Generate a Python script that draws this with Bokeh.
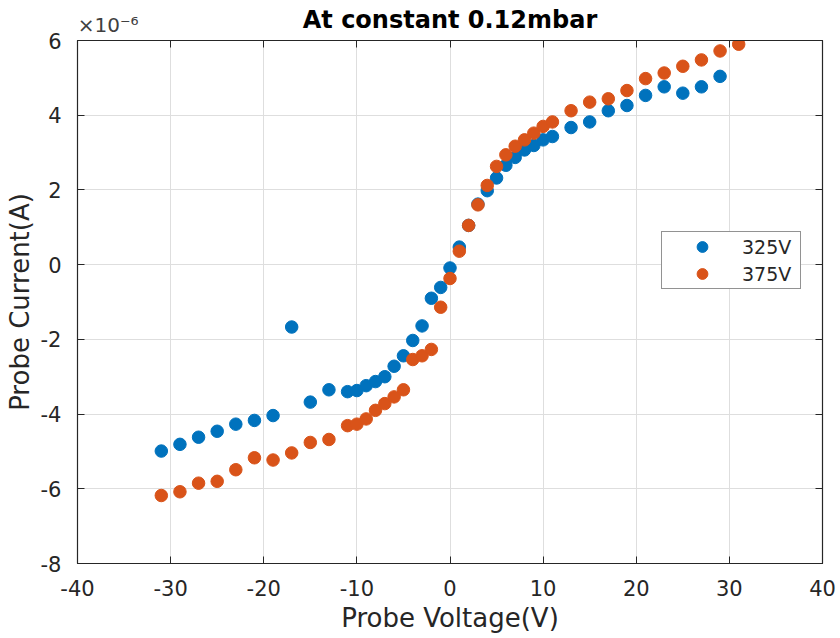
from bokeh.plotting import figure
from bokeh.models import (Range1d, LinearAxis, SingleIntervalTicker, FixedTicker,
                          Legend, LegendItem, ColumnDataSource, CustomJSTickFormatter)
from bokeh.embed import file_html
from bokeh.resources import INLINE

# Probe current in units of 1e-6 A (axis multiplier shown as x10^-6)
voltage_325 = [-31, -29, -27, -25, -23, -21, -19, -17, -15, -13, -11, -10, -9, -8, -7, -6,
               -5, -4, -3, -2, -1, 0, 1, 2, 3, 4, 5, 6, 7, 8, 9, 10, 11, 13, 15, 17, 19,
               21, 23, 25, 27, 29]
current_325 = [-4.99, -4.81, -4.62, -4.46, -4.27, -4.17, -4.04, -1.67, -3.68, -3.35, -3.40,
               -3.37, -3.24, -3.13, -3.00, -2.72, -2.44, -2.03, -1.64, -0.90, -0.61, -0.09,
               0.47, 1.05, 1.62, 1.98, 2.32, 2.66, 2.87, 3.07, 3.19, 3.34, 3.43, 3.67, 3.82,
               4.12, 4.26, 4.53, 4.76, 4.59, 4.76, 5.04]

voltage_375 = [-31, -29, -27, -25, -23, -21, -19, -17, -15, -13, -11, -10, -9, -8, -7, -6,
               -5, -4, -3, -2, -1, 0, 1, 2, 3, 4, 5, 6, 7, 8, 9, 10, 11, 13, 15, 17, 19,
               21, 23, 25, 27, 29, 31]
current_375 = [-6.18, -6.08, -5.85, -5.80, -5.49, -5.17, -5.23, -5.04, -4.76, -4.68, -4.31,
               -4.27, -4.13, -3.90, -3.72, -3.54, -3.35, -2.54, -2.44, -2.27, -1.14, -0.37,
               0.36, 1.05, 1.60, 2.12, 2.63, 2.94, 3.17, 3.34, 3.52, 3.70, 3.82, 4.12, 4.35,
               4.44, 4.66, 4.98, 5.13, 5.31, 5.48, 5.72, 5.90]

series_names = ["325V", "375V"]
x_ticks = [-40, -30, -20, -10, 0, 10, 20, 30, 40]
title_text = "At constant 0.12mbar"
multiplier_text = "×10⁻⁶"
x_label = "Probe Voltage(V)"
y_label = "Probe Current(A)"

BLUE = "#0072BD"
ORANGE = "#D95319"
DARK = "#262626"
FONT = "DejaVu Sans"

FL, FR, FT, FB = 77, 18, 40, 75
W, H = 840, 638
MULT_X = -36.7  # horizontal anchor (data x) of the multiplier text above the frame

p = figure(width=W, height=H, output_backend="svg", toolbar_location=None,
           x_range=Range1d(-40, 40), y_range=Range1d(-8, 6),
           min_border_left=FL, min_border_right=FR, min_border_top=FT,
           min_border_bottom=FB, background_fill_color="white",
           border_fill_color="white", title=None)

p.outline_line_color = DARK
p.outline_line_width = 1.2

fmt = CustomJSTickFormatter(code="return tick.toFixed(0);")

for ax, interval in ((p.xaxis[0], 10), (p.yaxis[0], 2)):
    ax.ticker = SingleIntervalTicker(interval=interval)
    ax.formatter = fmt
    ax.major_tick_in = 7
    ax.major_tick_out = 0
    ax.minor_tick_line_color = None
    ax.axis_line_color = DARK
    ax.major_tick_line_color = DARK
    ax.major_label_text_font = FONT
    ax.major_label_text_font_size = "21px"
    ax.major_label_text_color = DARK
    ax.major_label_standoff = 12
    ax.axis_label_text_font = FONT
    ax.axis_label_text_font_size = "26px"
    ax.axis_label_text_font_style = "normal"
    ax.axis_label_text_color = DARK

p.xaxis[0].axis_label = x_label
p.xaxis[0].axis_label_standoff = 4
p.yaxis[0].axis_label = y_label
p.yaxis[0].axis_label_standoff = 3

# top axis: inward tick marks (as minor ticks), the x10^-6 multiplier as its only
# tick label, and the chart title as its axis label
top_ax = LinearAxis(ticker=FixedTicker(ticks=[MULT_X], minor_ticks=x_ticks),
                    major_label_overrides={MULT_X: multiplier_text},
                    major_tick_line_color=None, major_tick_in=0, major_tick_out=0,
                    minor_tick_in=7, minor_tick_out=0, minor_tick_line_color=DARK,
                    major_label_text_font=FONT, major_label_text_font_size="20px",
                    major_label_text_color="#404040", major_label_standoff=4,
                    axis_line_color=DARK,
                    axis_label=title_text, axis_label_text_font=FONT,
                    axis_label_text_font_size="24px", axis_label_text_font_style="bold",
                    axis_label_text_color="black", axis_label_standoff=-24)
p.add_layout(top_ax, "above")

right_ax = LinearAxis(ticker=SingleIntervalTicker(interval=2), major_tick_in=7,
                      major_tick_out=0, minor_tick_line_color=None,
                      major_label_text_font_size="1px", major_label_text_color=None,
                      major_label_standoff=0,
                      axis_line_color=DARK, major_tick_line_color=DARK)
p.add_layout(right_ax, "right")

p.xgrid.ticker = SingleIntervalTicker(interval=10)
p.ygrid.ticker = SingleIntervalTicker(interval=2)
p.grid.grid_line_color = "#dedede"
p.grid.grid_line_width = 1

src_325 = ColumnDataSource(dict(x=voltage_325, y=current_325))
src_375 = ColumnDataSource(dict(x=voltage_375, y=current_375))
r1 = p.scatter("x", "y", source=src_325, size=12.5, fill_color=BLUE, line_color=BLUE)
r2 = p.scatter("x", "y", source=src_375, size=12.5, fill_color=ORANGE, line_color=ORANGE)

legend = Legend(items=[LegendItem(label=series_names[0], renderers=[r1]),
                       LegendItem(label=series_names[1], renderers=[r2])],
                location=(661 - FL, (H - FB) - 289), padding=1, spacing=0,
                glyph_width=78, glyph_height=27, label_height=27, label_width=57,
                label_standoff=1,
                label_text_font=FONT, label_text_font_size="19px",
                label_text_color=DARK, border_line_color=DARK, border_line_width=1.2,
                background_fill_color="white", background_fill_alpha=1.0)
p.add_layout(legend, "center")

open("out.html", "w").write(file_html(p, INLINE))
